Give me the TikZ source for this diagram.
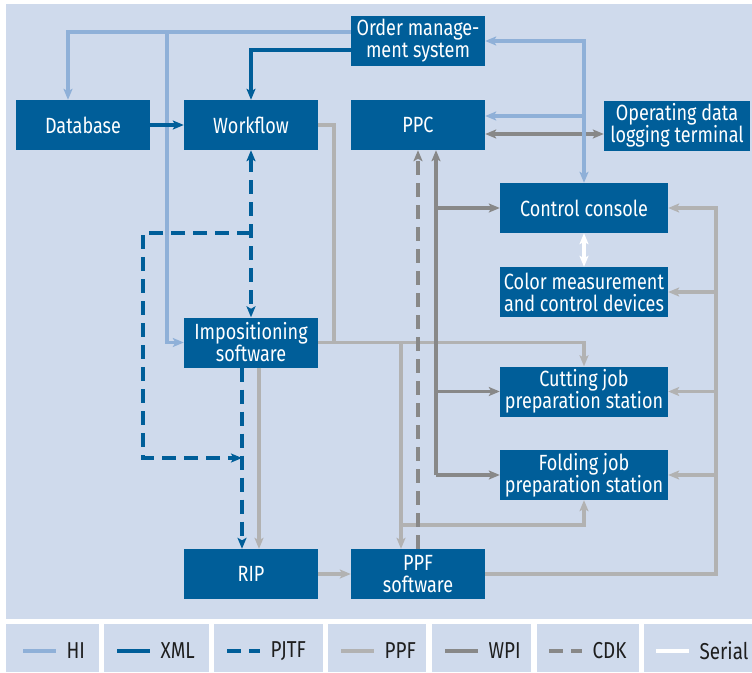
\documentclass[tikz,border=0pt]{standalone}
\usepackage{fontspec}
\setmainfont{Fira Sans}[FakeStretch=0.82]
\usetikzlibrary{arrows.meta}
\definecolor{panel}{RGB}{207,218,236}
\definecolor{boxblue}{RGB}{0,94,153}
\definecolor{hiblue}{RGB}{143,176,216}
\definecolor{ppfgray}{RGB}{178,178,178}
\definecolor{wpigray}{RGB}{136,136,136}
\definecolor{legtext}{RGB}{30,30,30}

\begin{document}
\begin{tikzpicture}[x=1pt,y=-1pt,
  >={Stealth[length=11pt,width=9pt,inset=2.5pt]},
  box/.style={fill=boxblue,text=white,minimum width=134pt,minimum height=50pt,inner sep=0pt,align=center,font=\fontsize{22}{22}\selectfont},
  hi/.style={draw=hiblue,line width=3.2pt},
  xml/.style={draw=boxblue,line width=3.2pt},
  pjtf/.style={xml,dash pattern=on 14pt off 8pt},
  ppf/.style={draw=ppfgray,line width=3.2pt},
  wpi/.style={draw=wpigray,line width=3.2pt},
  cdk/.style={wpi,dash pattern=on 14pt off 8pt},
  serial/.style={draw=white,line width=3.2pt},
  legend/.style={text=legtext,inner sep=0pt,xshift=9pt,font=\fontsize{23}{23}\selectfont}]
\useasboundingbox[fill=white] (0,0) rectangle (752,672);
\fill[panel] (6,4) rectangle (752,619);
\foreach \a/\b in {6/99,104/209,214/323,328/426,432/531,537/639,644/752}
  \fill[panel] (\a,624) rectangle (\b,672);

\node[box] (oms) at (418,41) {Order manage-\\ment system};
\node[box] (db) at (83,125) {Database};
\node[box] (wf) at (251,125) {Workflow};
\node[box] (ppc) at (418,125) {PPC};
\node[box,minimum width=146pt] (odl) at (677,125.5) {Operating data\\logging terminal};
\node[box,minimum width=168pt] (cc) at (584,208) {Control console};
\node[box,minimum width=168pt] (cmc) at (584,292) {Color measurement\\and control devices};
\node[box] (imp) at (251,342.5) {Impositioning\\software};
\node[box,minimum width=168pt] (cut) at (584,391.5) {Cutting job\\preparation station};
\node[box,minimum width=168pt] (fold) at (584,475) {Folding job\\preparation station};
\node[box] (rip) at (251,574) {RIP};
\node[box] (ppfsw) at (418,574) {PPF\\software};

\coordinate (hisplit) at (167,32);
\coordinate (hippc) at ([yshift=9pt]ppc.east);
\coordinate (pjtop) at (143,233);
\coordinate (pjbot) at (143,458);
\coordinate (ppfjoin) at (334,342.5);
\coordinate (ppfdown) at (401,342.5);
\coordinate (ppflow) at (401,525);
\coordinate (ppfright) at (716,208);
\coordinate (wpitop) at ([xshift=18pt]ppc.south);
\coordinate (wpiodl) at ([yshift=-9pt]ppc.east);

\draw[ppf] (wf.east) -| (ppfjoin);
\draw[ppf,->] (imp.east) -| (cut.north);
\draw[ppf,->] (ppfdown) -- (ppfdown |- ppfsw.north);
\draw[ppf,->] (ppflow) -| (fold.south);
\draw[ppf,->] ([xshift=8pt]imp.south) -- ([xshift=8pt]rip.north);
\draw[ppf,->] (rip) -- (ppfsw);
\draw[ppf,->] (ppfsw.east) -| (ppfright) -- (cc.east);
\foreach \n in {cmc,cut,fold}
  \draw[ppf,->] (ppfright |- \n.east) -- (\n.east);

\draw[wpi,<->] (wpiodl) -- (wpiodl -| odl.west);
\draw[wpi,->] (wpitop |- fold.west) -- (wpitop);
\foreach \n in {cc,cut,fold}
  \draw[wpi,->] (wpitop |- \n.west) -- (\n.west);
\draw[cdk,->] (ppfsw.north) -- (ppc.south);

\draw[hi,->] ([yshift=9pt]oms.west) -| ([xshift=-15pt]db.north);
\draw[hi,->] (hisplit) |- (imp.west);
\draw[hi,<->] (oms.east) -| (cc.north);
\draw[hi,->] (cc.north |- hippc) -- (hippc);

\draw[xml,->] ([yshift=-9pt]oms.west) -| (wf.north);
\draw[xml,->] (db) -- (wf);
\draw[pjtf,<->] (wf.south) -- (imp.north);
\draw[pjtf,->] (wf.south |- pjtop) -- (pjtop) -- (pjbot) -- ([xshift=-9pt]imp.south |- pjbot);
\draw[pjtf,->] ([xshift=-9pt]imp.south) -- ([xshift=-9pt]rip.north);

\draw[serial,<->] (cc.south) -- (cmc.north);

\foreach \a/\t/\s in {23/HI/hi,117/XML/xml,227/PJTF/pjtf,341/PPF/ppf,445/WPI/wpi,549/CDK/cdk,656/Serial/serial}
  \draw[\s] (\a,651) -- ++(33,0) node[legend,right] (leg\t) {\t};
\end{tikzpicture}
\end{document}
